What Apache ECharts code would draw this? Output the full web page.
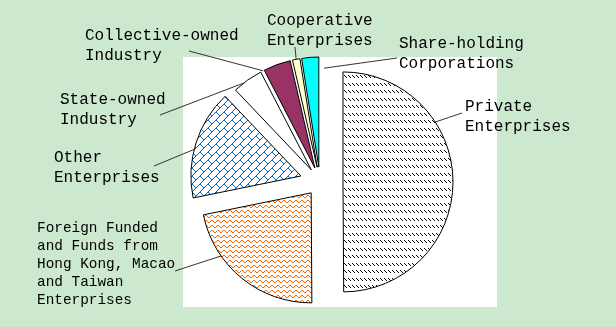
<!DOCTYPE html>
<html>
<head>
<meta charset="utf-8">
<script src="https://cdn.jsdelivr.net/npm/echarts@6/dist/echarts.min.js"></script>
<style>
  html, body { margin: 0; padding: 0; background: #cce8cf; }
  #chart { width: 616px; height: 327px; }
</style>
</head>
<body>
<div id="chart"></div>
<script>
// Ownership categories and their shares (%)
const categories = [
  'Private\nEnterprises',
  'Foreign Funded\nand Funds from\nHong Kong, Macao\nand Taiwan\nEnterprises',
  'Other\nEnterprises',
  'State-owned\nIndustry',
  'Collective-owned\nIndustry',
  'Cooperative\nEnterprises',
  'Share-holding\nCorporations'
];
const shares = [49.9, 21.9, 16.1, 4.5, 4.0, 1.1, 2.5];

// Layout: pie centre, radius, how far each slice is pulled out
const CX = 320, CY = 182, R = 110;
const explode = [23, 14, 20, 15, 15, 15, 15];
// Label block top-left positions
const labelPos = [[465, 97], [37, 219], [54, 148], [60, 90], [85, 26], [267, 11], [399, 34]];
// Leader lines: angle (deg) and reach (fraction of radius) where each starts, and where it ends near the label
const leaderAngle = [33, 215, 166, 128, 118, 101, 87];
const leaderReach = [1, 1, 1, 1, 1, 1, 0.9];
const leaderEnd = [[462, 113], [175, 271], [154, 166], [160, 115], [189, 51], [295, 47], [397, 58]];

// Small pixel tiles used as fill patterns
function makeTile(w, h, color, test) {
  const c = document.createElement('canvas');
  c.width = w; c.height = h;
  const g = c.getContext('2d');
  g.fillStyle = '#ffffff';
  g.fillRect(0, 0, w, h);
  g.fillStyle = color;
  for (let y = 0; y < h; y++) for (let x = 0; x < w; x++) if (test(x, y)) g.fillRect(x, y, 1, 1);
  return { image: c, repeat: 'repeat' };
}
const hatch = makeTile(4, 15, '#000000', (x, y) => (y <= 2 && x === y) || (y >= 8 && y <= 10 && x === y - 8));
const wave = makeTile(6, 5, '#ff6600', (x, y) =>
  (y === 1 && (x === 0 || x === 3)) || (y === 0 && (x === 1 || x === 2)) || (y === 2 && (x === 4 || x === 5)));
const brick = makeTile(16, 16, '#0066cc', (x, y) => {
  const s = x + y;
  if (s % 8 === 7) return true;
  const band = Math.floor(s / 8);
  const d = ((x - y) % 16 + 16) % 16;
  return d === (band % 2 === 0 ? 0 : 8);
});
const fills = [hatch, wave, brick, '#ffffff', '#993366', '#ffffcc', '#00ffff'];

const total = shares.reduce((a, b) => a + b, 0);
let acc = 0;
const series = shares.map((v, i) => {
  const mid = (90 - 360 * (acc + v / 2) / total) * Math.PI / 180;
  acc += v;
  const big = i !== 1;
  const cx = CX + explode[i] * Math.cos(mid);
  const cy = CY - explode[i] * Math.sin(mid);
  const a = leaderAngle[i] * Math.PI / 180;
  const reach = R * leaderReach[i];
  const start = [cx + reach * Math.cos(a), cy - reach * Math.sin(a)];
  const end = leaderEnd[i];
  const midPt = [(start[0] + end[0]) / 2, (start[1] + end[1]) / 2];
  return {
    type: 'pie',
    radius: R,
    center: [cx, cy],
    startAngle: 90,
    clockwise: true,
    avoidLabelOverlap: false,
    silent: true,
    animation: false,
    emphasis: { disabled: true },
    data: shares.map((val, j) => j === i ? {
      value: val,
      name: categories[j],
      itemStyle: { color: fills[j], borderColor: '#000000', borderWidth: 1 },
      label: {
        show: true,
        formatter: '{b}',
        fontFamily: 'Liberation Mono',
        fontSize: big ? 16 : 14.4,
        lineHeight: big ? 20 : 18,
        color: '#000000'
      },
      labelLine: { show: true, lineStyle: { color: '#333333', width: 1 } }
    } : {
      value: val,
      name: categories[j],
      itemStyle: { color: 'rgba(0,0,0,0)', borderWidth: 0 },
      label: { show: false },
      labelLine: { show: false }
    }),
    labelLayout: () => ({
      x: labelPos[i][0], y: labelPos[i][1], align: 'left', verticalAlign: 'top',
      labelLinePoints: [start, midPt, end]
    })
  };
});

const chart = echarts.init(document.getElementById('chart'), null, { renderer: 'canvas' });
chart.setOption({
  backgroundColor: '#cce8cf',
  animation: false,
  graphic: [{
    type: 'rect', z: -10, silent: true,
    shape: { x: 183, y: 57, width: 314, height: 250 },
    style: { fill: '#ffffff' }
  }],
  series: series
});
</script>
</body>
</html>
